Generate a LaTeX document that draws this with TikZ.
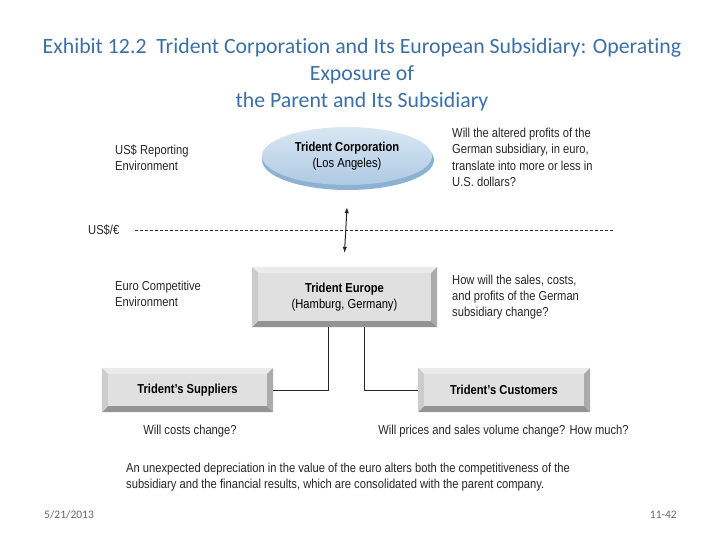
\documentclass[tikz,border=0pt]{standalone}
\usepackage{fontspec}
\setmainfont{Liberation Sans}[FakeStretch=0.86]
\newfontfamily\titlefont{Carlito}[Ligatures=NoCommon]
\usetikzlibrary{shapes.geometric,arrows.meta}
\definecolor{titleblue}{HTML}{3B6FA6}
\definecolor{facegray}{HTML}{E0E0E0}
\definecolor{ellTop}{HTML}{D9E7F3}
\definecolor{ellBot}{HTML}{AFCAE3}
\definecolor{ellShadow}{HTML}{8DB1D2}
\tikzset{
  lbl/.style={anchor=west, align=left, font=\fontsize{13}{16.3}\selectfont, inner sep=0pt, text=black!85},
  ctr/.style={align=center, font=\fontsize{13}{16.3}\selectfont, inner sep=0pt, text=black!85},
  bevelbox/.style={rectangle, fill=facegray, inner sep=0pt, align=center, font=\fontsize{13}{16.3}\selectfont},
  conn/.style={draw=black!85, line width=1pt},
}
\newcommand{\bevelize}[1]{%
  \fill[black!8] (#1.north west) -- (#1.north east) -- ([shift={(-6,6)}]#1.north east) -- ([shift={(6,6)}]#1.north west) -- cycle;
  \fill[black!42] (#1.south west) -- (#1.south east) -- ([shift={(-6,-6)}]#1.south east) -- ([shift={(6,-6)}]#1.south west) -- cycle;
  \fill[black!20] (#1.north west) -- (#1.south west) -- ([shift={(6,-6)}]#1.south west) -- ([shift={(6,6)}]#1.north west) -- cycle;
  \fill[black!33] (#1.north east) -- (#1.south east) -- ([shift={(-6,-6)}]#1.south east) -- ([shift={(-6,6)}]#1.north east) -- cycle;
}
\begin{document}
\begin{tikzpicture}[x=1pt,y=-1pt]
\useasboundingbox (0,0) rectangle (720,540);

% title
\node[font=\titlefont\fontsize{21.8}{27}\selectfont, text=titleblue, align=center] (title) at (362,75)
  {Exhibit 12.2\ \ Trident Corporation and Its European Subsidiary: Operating\\Exposure of\\the Parent and Its Subsidiary};

% parent ellipse
\fill[ellShadow] (348,160) ellipse [x radius=86, y radius=30];
\node[ellipse, minimum width=170, minimum height=58, top color=ellTop, bottom color=ellBot, draw=none, align=center, font=\fontsize{13}{16.3}\selectfont] (corp) at (347,156)
  {\textbf{Trident Corporation}\\(Los Angeles)};

\node[lbl] (usrep) at (115,158) {US\$ Reporting\\Environment};
\node[lbl] (q1) at (452,157.5) {Will the altered profits of the\\German subsidiary, in euro,\\translate into more or less in\\U.S. dollars?};

% exchange rate line
\node[lbl] (usd) at (88,230) {US\$/€};
\coordinate (dashend) at (613,230);
\draw[dash pattern=on 3pt off 2pt, line width=0.7pt, black!80] (135,230) -- (dashend);

% Trident Europe
\node[bevelbox, minimum width=185, minimum height=60] (te) at (344.5,297)
  {\textbf{Trident Europe}\\(Hamburg, Germany)};
\bevelize{te}

\draw[conn, {Latex[length=6pt,width=4.5pt]}-{Latex[length=6pt,width=4.5pt]}] ([yshift=-22pt]corp.south) -- ([yshift=14pt]te.north);

\node[lbl] (euro) at (115,294) {Euro Competitive\\Environment};
\node[lbl] (q2) at (452,297) {How will the sales, costs,\\and profits of the German\\subsidiary change?};

% suppliers and customers
\node[bevelbox, minimum width=171, minimum height=44] (sup) at (187.5,390) {\textbf{Trident's Suppliers}};
\bevelize{sup}
\node[bevelbox, minimum width=172, minimum height=44] (cus) at (504,390) {\textbf{Trident's Customers}};
\bevelize{cus}

\draw[conn] ([xshift=-16.5pt]te.south) |- (sup.east);
\draw[conn] ([xshift=19.5pt]te.south) |- (cus.west);

\node[ctr] (q3) at (190,431) {Will costs change?};
\node[ctr] (q4) at (503.5,431) {Will prices and sales volume change? How much?};

\node[lbl] (note) at (126,477) {An unexpected depreciation in the value of the euro alters both the competitiveness of the\\subsidiary and the financial results, which are consolidated with the parent company.};

% footer
\node[anchor=west, inner sep=0pt, font=\titlefont\fontsize{11.5}{13}\selectfont, text=black!60] (date) at (44,515) {5/21/2013};
\node[anchor=east, inner sep=0pt, font=\titlefont\fontsize{11.5}{13}\selectfont, text=black!60] (page) at (677,515) {11-42};
\end{tikzpicture}
\end{document}
